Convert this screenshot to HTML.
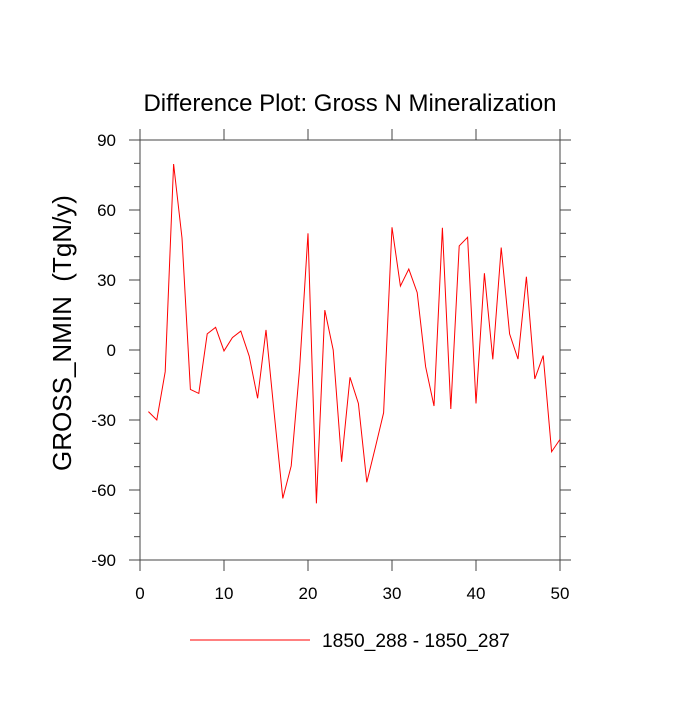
<!DOCTYPE html>
<html><head><meta charset="utf-8"><style>
html,body{margin:0;padding:0;background:#fff;}
svg text{font-family:"Liberation Sans",Arial,sans-serif;fill:#000;}
</style></head><body>
<svg id="chart" width="700" height="700" xmlns="http://www.w3.org/2000/svg">
<text x="350" y="111" font-size="24" text-anchor="middle">Difference Plot: Gross N Mineralization</text>
<text transform="translate(71,333) rotate(-90)" font-size="26" text-anchor="middle" xml:space="preserve" style="white-space:pre">GROSS_NMIN  (TgN/y)</text>
<g id="axes"></g>
<g id="plot"></g>
<g>
<line x1="190" y1="640" x2="310" y2="640" stroke="#ff0000" stroke-width="1"/>
<text x="322" y="647" font-size="19.2">1850_288 - 1850_287</text>
</g>
</svg>
<script>
const xValues=[1,2,3,4,5,6,7,8,9,10,11,12,13,14,15,16,17,18,19,20,21,22,23,24,25,26,27,28,29,30,31,32,33,34,35,36,37,38,39,40,41,42,43,44,45,46,47,48,49,50];
const seriesValues=[-26.4,-30,-9.3,79.7,48,-16.9,-18.6,6.9,9.7,-0.4,5.3,8.1,-2.6,-20.7,8.6,-28,-63.6,-49.7,-8,50,-65.7,17.1,0,-47.9,-11.7,-22.9,-56.7,-42,-26.9,52.6,27.4,34.7,24.6,-7.1,-24,52.4,-25.3,44.6,48.3,-22.9,32.9,-4,43.9,6.9,-3.9,31.4,-12.4,-2.4,-43.6,-38.3];
const xTicks=[0,10,20,30,40,50];
const yTicks=[-90,-60,-30,0,30,60,90];
const L=140,R=560,T=140,B=560;
const xs=v=>L+(v-0)/50*(R-L);
const ys=v=>B-(v+90)/180*(B-T);
const NS="http://www.w3.org/2000/svg";
const axes=document.getElementById('axes'),plot=document.getElementById('plot');
function mk(tag,attrs,parent){const e=document.createElementNS(NS,tag);for(const k in attrs)e.setAttribute(k,attrs[k]);parent.appendChild(e);return e;}
const frame=mk('rect',{x:L,y:T,width:R-L,height:B-T,fill:'none',stroke:'#444','stroke-width':1},axes);


xTicks.forEach(v=>{const x=xs(v);
 const t1=mk('line',{x1:x,y1:B,x2:x,y2:B+11,stroke:'#444'},axes);
 
 
 const t2=mk('line',{x1:x,y1:T,x2:x,y2:T-11,stroke:'#444'},axes);
 
 });
for(let v=-90;v<=90;v+=10){const major=v%30===0;const len=major?11:6;const y=ys(v);
 const t1=mk('line',{x1:L,y1:y,x2:L-len,y2:y,stroke:'#444'},axes);
 
 
 const t2=mk('line',{x1:R,y1:y,x2:R+len,y2:y,stroke:'#444'},axes);
 
 }
xTicks.forEach(v=>{const t=mk('text',{x:xs(v),y:B+39,'font-size':17,'text-anchor':'middle'},axes);t.textContent=v;
 
 });
yTicks.forEach(v=>{const t=mk('text',{x:L-24,y:ys(v)+6,'font-size':17,'text-anchor':'end'},axes);t.textContent=v;
 
 });
const pts=xValues.map((x,i)=>xs(x).toFixed(2)+','+ys(seriesValues[i]).toFixed(2)).join(' ');
const line=mk('polyline',{points:pts,fill:'none',stroke:'#ff0000','stroke-width':1},plot);


</script>
</body></html>
